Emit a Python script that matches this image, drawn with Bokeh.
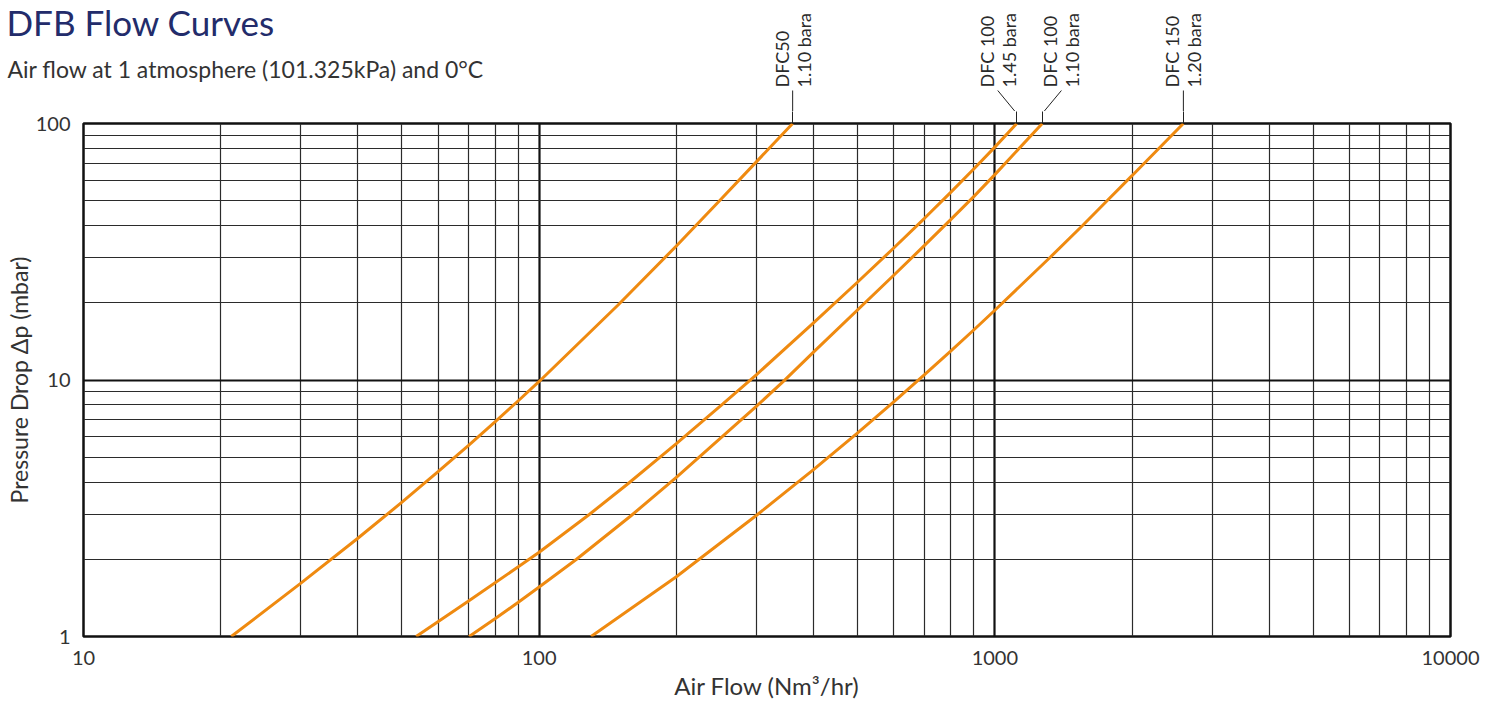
import math
from bokeh.plotting import figure
from bokeh.layouts import column
from bokeh.models import FixedTicker, NumeralTickFormatter, Range1d, LogAxis
from bokeh.core.properties import value
from bokeh.embed import file_html
from bokeh.resources import INLINE

# ---------------- data ----------------
dfc50_x = [21.1, 30, 40, 50, 60, 70, 80, 90, 100, 149, 200, 247, 300, 360]
dfc50_y = [1, 1.614, 2.415, 3.34, 4.39, 5.56, 6.87, 8.30, 9.87, 19.6, 33.3, 49.3, 71.0, 100]

dfc100_145_x = [53.7, 70, 90, 100, 128.8, 156.6, 200, 253, 300, 400, 500, 600, 700, 800, 900, 1000, 1117]
dfc100_145_y = [1, 1.375, 1.87, 2.13, 2.99, 3.94, 5.65, 8.07, 10.5, 16.7, 24.1, 32.7, 42.6, 53.9, 66.6, 80.9, 100]

dfc100_110_x = [70.2, 80, 90, 100, 120.8, 158.8, 200, 300, 344, 400, 600, 700, 800, 900, 1000, 1271]
dfc100_110_y = [1, 1.173, 1.36, 1.56, 2.0, 2.95, 4.17, 7.91, 9.9, 12.85, 25.6, 33.4, 42.2, 52.0, 63.2, 100]

dfc150_x = [130, 200, 300, 400, 500, 600, 700, 800, 900, 1000, 1323, 1560, 1770, 2000, 2593]
dfc150_y = [1, 1.71, 2.97, 4.47, 6.22, 8.22, 10.47, 12.97, 15.7, 18.7, 30.1, 40.1, 50.3, 62.6, 100]

series_names = ["DFC50\n1.10 bara", "DFC 100\n1.45 bara", "DFC 100\n1.10 bara", "DFC 150\n1.20 bara"]
series_x = [dfc50_x, dfc100_145_x, dfc100_110_x, dfc150_x]
series_y = [dfc50_y, dfc100_145_y, dfc100_110_y, dfc150_y]
label_x = [360, 1015, 1400, 2593]          # flow value under each series label

x_major = [10, 100, 1000, 10000]
y_major = [1, 10, 100]
x_decades = [10, 100, 1000]
y_decades = [1, 10]

title_text = "DFB Flow Curves"
subtitle_text = "Air flow at 1 atmosphere (101.325kPa) and 0°C"
x_label = "Air Flow (Nm³/hr)"
y_label = "Pressure Drop Δp (mbar)"

# ---------------- style / layout ----------------
FONT = "Lato"
ORANGE = "#ef8a10"
TEXT = "#333333"
NAVY = "#232c6b"
INK = "#222222"

W = 1488
MAIN_LEFT, MAIN_RIGHT = 83, 38
MAIN_TOP, FRAME_H, MAIN_BOTTOM = 12, 513, 66
FRAME_W = W - MAIN_LEFT - MAIN_RIGHT
TOP_H = 111
TITLE_MID = 89.5
SUBTITLE_MID = 43
TEXT_LEFT = 6
LABEL_START = 24
LEADER_TOP = 21

x_minor = [m * d for d in x_decades for m in range(2, 10)]
y_minor = [m * d for d in y_decades for m in range(2, 10)]
top_x = [xs[-1] for xs in series_x]


def no_align(fig):
    if "frame_align" in type(fig).properties():
        fig.frame_align = False


# ---------------- main chart ----------------
main = figure(width=W, height=MAIN_TOP + FRAME_H + MAIN_BOTTOM,
              x_axis_type="log", y_axis_type="log",
              x_range=Range1d(x_major[0], x_major[-1]),
              y_range=Range1d(y_major[0], y_major[-1]),
              output_backend="svg", toolbar_location=None, title=None,
              min_border_left=MAIN_LEFT, min_border_right=MAIN_RIGHT,
              min_border_top=MAIN_TOP, min_border_bottom=MAIN_BOTTOM)
no_align(main)
main.background_fill_color = "white"
main.border_fill_color = "white"
main.outline_line_color = "#111111"
main.outline_line_width = 2.5

xa = main.xaxis[0]
ya = main.yaxis[0]
xa.ticker = FixedTicker(ticks=x_major, minor_ticks=x_minor)
ya.ticker = FixedTicker(ticks=y_major, minor_ticks=y_minor)
xa.formatter = NumeralTickFormatter(format="0")
ya.formatter = NumeralTickFormatter(format="0")
main.xgrid[0].ticker = xa.ticker
main.ygrid[0].ticker = ya.ticker

for ax in (xa, ya):
    ax.axis_line_color = None
    ax.major_tick_line_color = None
    ax.minor_tick_line_color = None
    ax.major_label_text_font = FONT
    ax.major_label_text_font_size = "20px"
    ax.major_label_text_color = TEXT
    ax.axis_label_text_font = FONT
    ax.axis_label_text_color = TEXT
    ax.axis_label_text_font_style = "normal"
xa.axis_label = x_label
ya.axis_label = y_label
xa.axis_label_text_font_size = "24px"
ya.axis_label_text_font_size = "23px"
xa.major_label_standoff = 8
xa.axis_label_standoff = 3
ya.major_tick_out = 0
ya.minor_tick_out = 0
ya.major_label_standoff = 13
ya.axis_label_standoff = 0

for g in (main.xgrid[0], main.ygrid[0]):
    g.grid_line_color = "#111111"
    g.grid_line_width = 2.2
    g.minor_grid_line_color = "#2b2b2b"
    g.minor_grid_line_width = 1.2

for xs, ys in zip(series_x, series_y):
    main.line(xs, ys, line_color=ORANGE, line_width=3)

# lower ends of the label leader lines: ticks of an unlabelled axis on top
lead = LogAxis(ticker=FixedTicker(ticks=top_x), major_tick_out=MAIN_TOP, major_tick_in=0,
               major_tick_line_color=INK, major_tick_line_width=1,
               axis_line_color=None, minor_tick_line_color=None,
               major_label_text_color=None, major_label_text_font_size="0px",
               major_label_standoff=0)
main.add_layout(lead, "above")

# ---------------- top band: titles and series labels ----------------
ppd = FRAME_W / math.log10(x_major[-1] / x_major[0])
x_lo = 10 ** (math.log10(x_major[0]) - MAIN_LEFT / ppd)
x_hi = 10 ** (math.log10(x_major[-1]) + MAIN_RIGHT / ppd)

top = figure(width=W, height=TOP_H, x_axis_type="log",
             x_range=Range1d(x_lo, x_hi), y_range=Range1d(0, TOP_H),
             x_axis_location=None, y_axis_location=None,
             output_backend="svg", toolbar_location=None, title=None,
             min_border=0, min_border_left=0, min_border_right=0,
             min_border_top=0, min_border_bottom=0)
no_align(top)
top.outline_line_color = None
top.background_fill_color = "white"
top.border_fill_color = "white"
top.xgrid.visible = False
top.ygrid.visible = False

top.text(x=[x_lo], y=[TITLE_MID], text=[title_text], text_font=value(FONT),
         text_font_size="35px", text_color=NAVY, text_align="left",
         text_baseline="middle", x_offset=TEXT_LEFT)
top.text(x=[x_lo], y=[SUBTITLE_MID], text=[subtitle_text], text_font=value(FONT),
         text_font_size="23px", text_color=TEXT, text_align="left",
         text_baseline="middle", x_offset=TEXT_LEFT + 1)

top.segment(x0=label_x, y0=[LEADER_TOP] * len(label_x), x1=top_x, y1=[-2] * len(top_x),
            line_color=INK, line_width=1)
top.text(x=label_x, y=[LABEL_START] * len(label_x), text=series_names,
         angle=math.pi / 2, text_font=value(FONT), text_font_size="18px",
         text_color="#2a2a2a", text_align="left", text_baseline="middle",
         text_line_height=1.0)

layout = column(top, main, spacing=0)
open("out.html", "w").write(file_html(layout, INLINE))
